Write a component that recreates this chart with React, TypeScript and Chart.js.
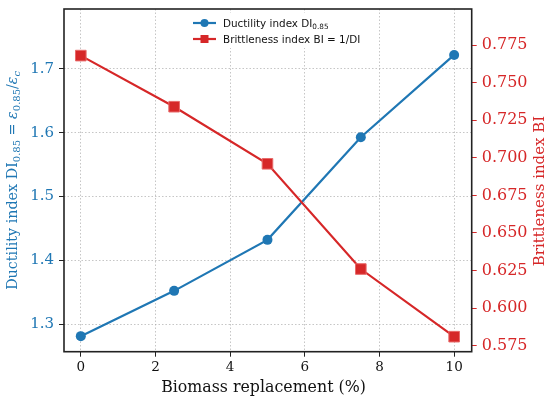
import React, { useEffect, useRef } from 'react';
import { Chart, registerables } from 'chart.js';

Chart.register(...registerables);

// values
const replacement = [0, 2.5, 5, 7.5, 10];
const ductility = [1.281, 1.352, 1.432, 1.593, 1.722];
const brittleness = [0.768, 0.734, 0.696, 0.626, 0.581];

const xTicks = [0, 2, 4, 6, 8, 10];
const leftTicks = [1.3, 1.4, 1.5, 1.6, 1.7];
const rightTicks = [0.575, 0.6, 0.625, 0.65, 0.675, 0.7, 0.725, 0.75, 0.775];

const BLUE = '#1f77b4';
const RED = '#d62728';
const GRID = 'rgba(170,170,170,0.85)';
const SERIF = '"DejaVu Serif", serif';
const SANS = '"DejaVu Sans", sans-serif';

type Run = { t: string; sub?: boolean; it?: boolean };

function runFont(r: Run, size: number, family: string) {
  return `${r.it ? 'italic ' : ''}${r.sub ? size * 0.7 : size}px ${family}`;
}

function drawRuns(ctx: CanvasRenderingContext2D, runs: Run[], x: number, y: number,
  size: number, family: string, color: string, center: boolean) {
  let total = 0;
  for (const r of runs) {
    ctx.font = runFont(r, size, family);
    total += ctx.measureText(r.t).width;
  }
  let cx = center ? x - total / 2 : x;
  ctx.fillStyle = color;
  ctx.textAlign = 'left';
  ctx.textBaseline = 'alphabetic';
  for (const r of runs) {
    ctx.font = runFont(r, size, family);
    ctx.fillText(r.t, cx, r.sub ? y + size * 0.22 : y);
    cx += ctx.measureText(r.t).width;
  }
}

const xTitle: Run[] = [{ t: 'Biomass replacement (%)' }];
const leftTitle: Run[] = [
  { t: 'Ductility index DI' }, { t: '0.85', sub: true }, { t: ' = ' },
  { t: 'ε', it: true }, { t: '0.85', sub: true }, { t: '/' },
  { t: 'ε', it: true }, { t: 'c', sub: true, it: true },
];
const rightTitle: Run[] = [{ t: 'Brittleness index BI' }];
const legendRows: { runs: Run[]; color: string; marker: 'circle' | 'rect' }[] = [
  { runs: [{ t: 'Ductility index DI' }, { t: '0.85', sub: true }], color: BLUE, marker: 'circle' },
  { runs: [{ t: 'Brittleness index BI = 1/DI' }], color: RED, marker: 'rect' },
];

const decorPlugin = {
  id: 'decor',
  afterDatasetsDraw(chart: any) {
    const { ctx, chartArea: a } = chart;
    ctx.save();
    // frame
    ctx.strokeStyle = '#222';
    ctx.lineWidth = 1.6;
    ctx.strokeRect(a.left, a.top, a.right - a.left, a.bottom - a.top);

    // legend
    ctx.fillStyle = '#fff';
    ctx.fillRect(188, 13, 176, 35);
    legendRows.forEach((row, i) => {
      const y = 23 + i * 16;
      ctx.strokeStyle = row.color;
      ctx.lineWidth = 2.2;
      ctx.beginPath();
      ctx.moveTo(193, y);
      ctx.lineTo(216, y);
      ctx.stroke();
      ctx.fillStyle = row.color;
      if (row.marker === 'circle') {
        ctx.beginPath();
        ctx.arc(204.5, y, 4, 0, Math.PI * 2);
        ctx.fill();
      } else {
        ctx.fillRect(200.5, y - 4, 8, 8);
      }
      drawRuns(ctx, row.runs, 223, y + 4, 10.4, SANS, '#111', false);
    });
    ctx.restore();
  },
  afterDraw(chart: any) {
    const { ctx, chartArea: a } = chart;
    drawRuns(ctx, xTitle, 263.5, 391.5, 15.8, SERIF, '#111', true);

    ctx.save();
    ctx.translate(11.5, (a.top + a.bottom) / 2);
    ctx.rotate(-Math.PI / 2);
    drawRuns(ctx, leftTitle, 0, 5.2, 14.3, SERIF, BLUE, true);
    ctx.restore();

    ctx.save();
    ctx.translate(539, 191);
    ctx.rotate(-Math.PI / 2);
    drawRuns(ctx, rightTitle, 0, 5.4, 15, SERIF, RED, true);
    ctx.restore();
  },
};

const fixedTicks = (vals: number[]) => (s: any) => {
  s.ticks = vals.map((v) => ({ value: v }));
};

const App: React.FC = () => {
  const canvasRef = useRef<HTMLCanvasElement>(null);

  useEffect(() => {
    document.body.style.margin = '0';
    if (!canvasRef.current) return;
    const ctx = canvasRef.current.getContext('2d');
    if (!ctx) return;

    const chart = new Chart(ctx, {
      type: 'line',
      data: {
        datasets: [
          {
            label: 'Ductility index',
            data: replacement.map((x, i) => ({ x, y: ductility[i] })),
            yAxisID: 'y',
            borderColor: BLUE,
            backgroundColor: BLUE,
            borderWidth: 2.2,
            pointStyle: 'circle',
            pointRadius: 5,
            pointBorderWidth: 0,
            order: 1,
          },
          {
            label: 'Brittleness index',
            data: replacement.map((x, i) => ({ x, y: brittleness[i] })),
            yAxisID: 'y1',
            borderColor: RED,
            backgroundColor: RED,
            borderWidth: 2.2,
            pointStyle: 'rect',
            pointRadius: 7.5,
            pointBorderWidth: 1,
            pointBorderColor: '#e86a6a',
            order: 0,
          },
        ],
      },
      options: {
        animation: false,
        responsive: false,
        events: [],
        layout: { padding: { top: 9 } },
        plugins: { legend: { display: false }, tooltip: { enabled: false } },
        scales: {
          x: {
            type: 'linear',
            min: -0.45,
            max: 10.47,
            afterBuildTicks: fixedTicks(xTicks),
            afterFit: (s: any) => { s.height = 49.3; s.paddingLeft = 0; s.paddingRight = 0; },
            ticks: { font: { family: SERIF, size: 13.5 }, color: '#111', padding: 3, callback: (v: any) => String(v) },
            grid: { color: GRID, lineWidth: 0.8, tickColor: '#222', tickLength: 5, tickWidth: 1, tickBorderDash: [] },
            border: { display: false, dash: [1.5, 2] },
          },
          y: {
            type: 'linear',
            position: 'left',
            min: 1.2566,
            max: 1.794,
            afterBuildTicks: fixedTicks(leftTicks),
            afterFit: (s: any) => { s.width = 64; s.paddingTop = 0; s.paddingBottom = 0; },
            ticks: { font: { family: SERIF, size: 15 }, color: BLUE, padding: 5, callback: (v: any) => Number(v).toFixed(1) },
            grid: { color: GRID, lineWidth: 0.8, tickColor: '#222', tickLength: 5, tickWidth: 1, tickBorderDash: [] },
            border: { display: false, dash: [1.5, 2] },
          },
          y1: {
            type: 'linear',
            position: 'right',
            min: 0.571,
            max: 0.799,
            afterBuildTicks: fixedTicks(rightTicks),
            afterFit: (s: any) => { s.width = 78.3; s.paddingTop = 0; s.paddingBottom = 0; },
            ticks: { font: { family: SERIF, size: 16 }, color: RED, padding: 5, callback: (v: any) => Number(v).toFixed(3) },
            grid: { drawOnChartArea: false, tickColor: RED, tickLength: 5, tickWidth: 1 },
            border: { display: false },
          },
        },
      },
      plugins: [decorPlugin],
    } as any);

    return () => {
      chart.destroy();
    };
  }, []);

  return <canvas ref={canvasRef} width={550} height={401} style={{ display: 'block' }} />;
};

export default App;
